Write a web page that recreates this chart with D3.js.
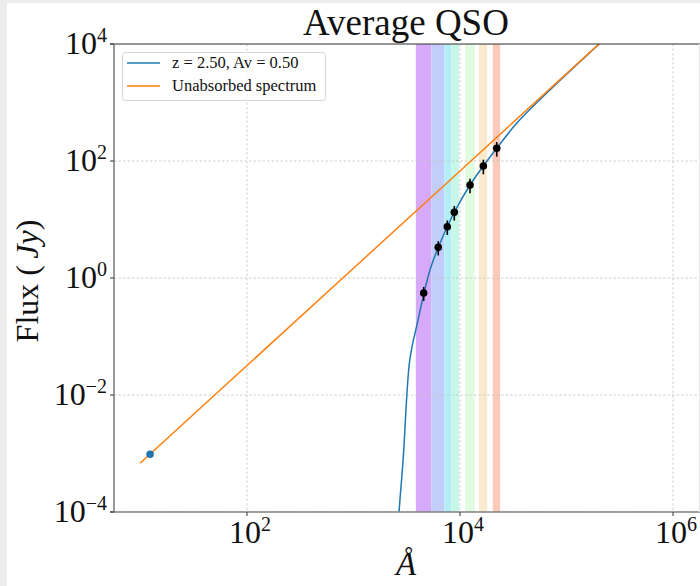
<!DOCTYPE html>
<html>
<head>
<meta charset="utf-8">
<script src="https://cdn.jsdelivr.net/npm/d3@7"></script>
<style>
  html, body { margin: 0; padding: 0; background: #ffffff; }
  svg { display: block; }
  text { font-family: "Liberation Serif", "DejaVu Serif", serif; fill: #111; }
</style>
</head>
<body>
<svg id="chart" width="700" height="586"></svg>
<script>
// Photometric bands (wavelength ranges in Å) and their fills
const bandLo    = [3850, 5370, 7120, 8280, 11200, 15050, 20300];
const bandHi    = [5370, 7120, 8280, 9800, 13750, 18000, 23800];
const bandColor = ["#d6a9f9", "#c2cdf9", "#b3eef6", "#c7f7e9", "#e1fbe1", "#f9e9cd", "#fdcab9"];

// Observed photometry (Å, Jy) with symmetric errors
const obsWave = [4560, 6250, 7600, 8840, 12420, 16560, 22130];
const obsFlux = [0.554, 3.35, 7.53, 13.3, 38.9, 82.2, 165];
const obsErr  = [0.15, 0.92, 2.1, 3.7, 10.9, 23, 46];

// Absorbed model spectrum, z = 2.50, Av = 0.50
const modelWave = [2590, 2673, 2937, 3162, 3345, 3597, 3920, 4274, 4590, 5226, 6250, 7600, 8840, 12420, 16560, 22130, 34050, 69950, 251000];
const modelFlux = [3.3e-5, 9.7e-5, 8.8e-4, 9.35e-3, 0.0348, 0.0766, 0.150, 0.310, 0.547, 1.37, 3.35, 7.53, 13.3, 38.9, 82.2, 165, 441, 1636, 14300];

// Unabsorbed power-law spectrum
const powWave = [9.9, 100, 1000, 10000, 100000, 300000];
const powFlux = [6.8e-4, 0.0319, 1.47, 67.6, 3112, 19400];

// Single reference point at short wavelength
const refWave = [12.3];
const refFlux = [9.7e-4];

// Axis ticks
const xTicks = [1e2, 1e4, 1e6];
const yTicks = [1e-4, 1e-2, 1e0, 1e2, 1e4];

const legendLabels = ["z = 2.50, Av = 0.50", "Unabsorbed spectrum"];
const legendColors = ["#1f77b4", "#ff7f0e"];

const svg = d3.select("#chart");
const L = 114, R = 700, T = 44, B = 512;

// frame strips
svg.append("rect").attr("x", 0).attr("y", 0).attr("width", 700).attr("height", 3).attr("fill", "#ececec");
svg.append("rect").attr("x", 0).attr("y", 0).attr("width", 7).attr("height", 586).attr("fill", "#ececec");

const x = d3.scaleLog().domain([Math.pow(10, 0.7512), Math.pow(10, 6.2535)]).range([L, R]);
const y = d3.scaleLog().domain([1e-4, 1e4]).range([B, T]);

svg.append("defs").append("clipPath").attr("id", "plot")
  .append("rect").attr("x", L).attr("y", T).attr("width", R - L).attr("height", B - T);

const plot = svg.append("g").attr("clip-path", "url(#plot)");

// bands
plot.selectAll("rect.band").data(d3.range(bandLo.length)).join("rect")
  .attr("class", "band")
  .attr("x", i => x(bandLo[i]))
  .attr("width", i => x(bandHi[i]) - x(bandLo[i]))
  .attr("y", T).attr("height", B - T)
  .attr("fill", i => bandColor[i]);

// grid
plot.selectAll("line.gx").data(xTicks).join("line")
  .attr("x1", d => x(d)).attr("x2", d => x(d)).attr("y1", T).attr("y2", B)
  .attr("stroke", "#c4c4c4").attr("stroke-width", 0.8).attr("stroke-dasharray", "2.5,2");
plot.selectAll("line.gy").data(yTicks).join("line")
  .attr("y1", d => y(d)).attr("y2", d => y(d)).attr("x1", L).attr("x2", R)
  .attr("stroke", "#c4c4c4").attr("stroke-width", 0.8).attr("stroke-dasharray", "2.5,2");

// model curve
const modelLine = d3.line().x(d => x(d[0])).y(d => y(d[1])).curve(d3.curveCatmullRom.alpha(0.5));
plot.append("path")
  .datum(d3.zip(modelWave, modelFlux))
  .attr("d", modelLine).attr("fill", "none")
  .attr("stroke", "#1f77b4").attr("stroke-width", 1.5);

// power law
const powLine = d3.line().x(d => x(d[0])).y(d => y(d[1]));
plot.append("path")
  .datum(d3.zip(powWave, powFlux))
  .attr("d", powLine).attr("fill", "none")
  .attr("stroke", "#ff7f0e").attr("stroke-width", 1.5);

// reference point
plot.selectAll("circle.ref").data(d3.zip(refWave, refFlux)).join("circle")
  .attr("cx", d => x(d[0])).attr("cy", d => y(d[1])).attr("r", 3.5)
  .attr("fill", "#1f77b4").attr("stroke", "#1a5f8f").attr("stroke-width", 0.6);

// photometry with error bars
const obs = d3.range(obsWave.length).map(i => [obsWave[i], obsFlux[i], obsErr[i]]);
plot.selectAll("line.err").data(obs).join("line")
  .attr("x1", d => x(d[0])).attr("x2", d => x(d[0]))
  .attr("y1", d => y(d[1] - d[2])).attr("y2", d => y(d[1] + d[2]))
  .attr("stroke", "#000").attr("stroke-width", 1.6);
plot.selectAll("circle.obs").data(obs).join("circle")
  .attr("cx", d => x(d[0])).attr("cy", d => y(d[1])).attr("r", 3.8)
  .attr("fill", "#000");

// spines
svg.append("line").attr("x1", L - 4).attr("x2", R).attr("y1", T).attr("y2", T)
  .attr("stroke", "#333").attr("stroke-width", 1.2);
svg.append("line").attr("x1", L).attr("x2", L).attr("y1", T).attr("y2", B)
  .attr("stroke", "#808080").attr("stroke-width", 1.6);
svg.append("line").attr("x1", L - 4).attr("x2", R).attr("y1", B).attr("y2", B)
  .attr("stroke", "#808080").attr("stroke-width", 1.6);
svg.append("line").attr("x1", R - 0.5).attr("x2", R - 0.5).attr("y1", T).attr("y2", B)
  .attr("stroke", "#e4e4e4").attr("stroke-width", 1);

// ticks
svg.selectAll("line.ty").data(yTicks).join("line")
  .attr("x1", L - 4).attr("x2", L).attr("y1", d => y(d)).attr("y2", d => y(d))
  .attr("stroke", "#333").attr("stroke-width", 1);
svg.selectAll("line.tx").data(xTicks).join("line")
  .attr("y1", B).attr("y2", B + 4).attr("x1", d => x(d)).attr("x2", d => x(d))
  .attr("stroke", "#333").attr("stroke-width", 1);

// tick labels: 10 with superscript exponent
function powLabel(sel, d) {
  const e = Math.round(Math.log10(d));
  sel.append("tspan").text("10");
  sel.append("tspan").attr("font-size", 20).attr("dy", -12)
    .text(e < 0 ? "\u2212" + (-e) : String(e));
}
svg.selectAll("text.ylab").data(yTicks).join("text")
  .attr("x", L - 7).attr("y", d => y(d) + 10)
  .attr("text-anchor", "end").attr("font-size", 32)
  .each(function(d) { powLabel(d3.select(this), d); });
svg.selectAll("text.xlab").data(xTicks).join("text")
  .attr("x", d => x(d) + 3).attr("y", 543)
  .attr("text-anchor", "middle").attr("font-size", 32)
  .each(function(d) { powLabel(d3.select(this), d); });

// title and axis labels
svg.append("text").attr("x", 406).attr("y", 35).attr("text-anchor", "middle")
  .attr("font-size", 37).text("Average QSO");
svg.append("text").attr("x", 406).attr("y", 575).attr("text-anchor", "middle")
  .attr("font-size", 33).attr("font-style", "italic").text("Å");
const yl = svg.append("text").attr("transform", "translate(38,281) rotate(-90)")
  .attr("text-anchor", "middle").attr("font-size", 32);
yl.append("tspan").text("Flux (\u2009");
yl.append("tspan").attr("font-style", "italic").text("Jy");
yl.append("tspan").text(")");

// legend
const lg = svg.append("g");
lg.append("rect").attr("x", 122.5).attr("y", 52.5).attr("width", 203).attr("height", 48)
  .attr("rx", 3).attr("fill", "#fff").attr("fill-opacity", 0.8)
  .attr("stroke", "#d6d6d6").attr("stroke-width", 1);
legendLabels.forEach((t, i) => {
  const yy = 63 + i * 23;
  lg.append("line").attr("x1", 127).attr("x2", 160).attr("y1", yy).attr("y2", yy)
    .attr("stroke", legendColors[i]).attr("stroke-width", 1.5);
  lg.append("text").attr("x", 172).attr("y", yy + 5).attr("font-size", 16.5).text(t);
});
</script>
</body>
</html>
